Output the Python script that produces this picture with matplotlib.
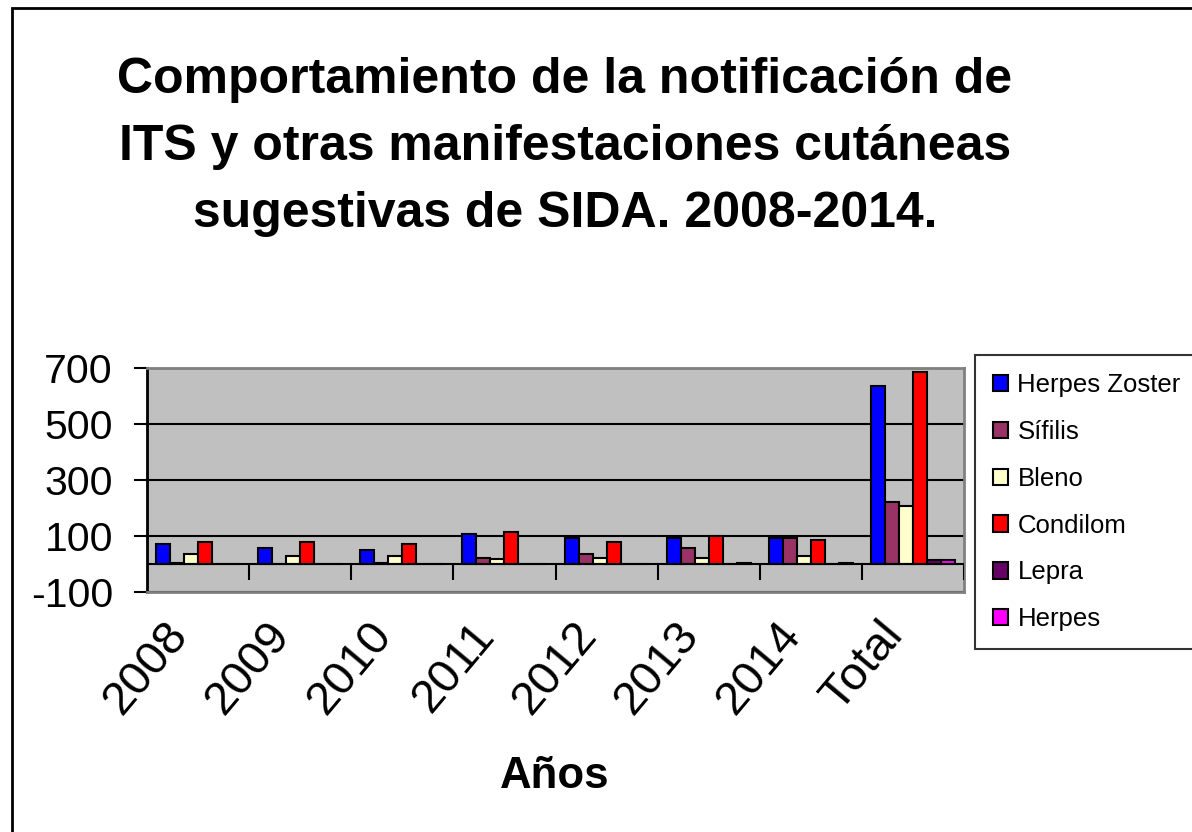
import matplotlib.pyplot as plt
import matplotlib.patches as mpatches
import matplotlib.transforms as mtransforms
import numpy as np

categorias = ["2008", "2009", "2010", "2011", "2012", "2013", "2014", "Total"]
herpes_zoster = [71, 57, 50, 107, 92, 92, 92, 636]
sifilis = [5, 0, 5, 20, 36, 57, 92, 220]
bleno = [36, 29, 29, 19, 20, 20, 29, 207]
condilom = [79, 79, 71, 113, 80, 100, 86, 684]
lepra = [0, 0, 0, 0, 0, 0, 0, 14]
herpes = [0, 0, 0, 0, 0, 5, 5, 14]

titulo = ["Comportamiento de la notificación de",
          "ITS y otras manifestaciones cutáneas",
          "sugestivas de SIDA. 2008-2014."]

series = [
    ("Herpes Zoster", herpes_zoster, "#0000FF"),
    ("Sífilis", sifilis, "#993366"),
    ("Bleno", bleno, "#FFFFCC"),
    ("Condilom", condilom, "#FF0000"),
    ("Lepra", lepra, "#660066"),
    ("Herpes", herpes, "#FF00FF"),
]

plt.rcParams["font.family"] = ["Liberation Sans", "DejaVu Sans"]
plt.rcParams["axes.unicode_minus"] = False

fig = plt.figure(figsize=(11.92, 8.32), dpi=100)
ax = fig.add_axes([147 / 1192, 1 - 592 / 832, 817 / 1192, 224 / 832])
ax.set_facecolor("#C0C0C0")

x = np.arange(len(categorias))
w = 0.137
for i, (nombre, vals, color) in enumerate(series):
    ax.bar(x + (i - 2.5) * w, vals, w, color=color, edgecolor="black",
           linewidth=1.5, label=nombre, zorder=3)

ax.set_xlim(-0.5, len(categorias) - 0.5)
ax.set_ylim(-100, 700)
ax.set_yticks([-100, 100, 300, 500, 700])
ax.yaxis.grid(True, color="black", linewidth=1.5, zorder=1)
ax.axhline(0, color="black", linewidth=1.5, zorder=4)
# marcas de categoria sobre el eje cero
ax.vlines(np.arange(1, len(categorias) + 1) - 0.5, -57, 0, color="black",
          linewidth=1.5, zorder=4)

ax.set_xticks(x)
ax.set_xticklabels(categorias, rotation=50, ha="right", va="center",
                   rotation_mode="anchor", fontsize=34)
ax.tick_params(axis="x", length=0, pad=26)
ax.tick_params(axis="y", length=9.5, width=1.5, direction="out", pad=15,
               labelsize=29.5)
desplaza = mtransforms.ScaledTranslation(-18 / 100, 0, fig.dpi_scale_trans)
for lbl in ax.get_xticklabels():
    lbl.set_transform(lbl.get_transform() + desplaza)

for s in ["top", "right", "bottom"]:
    ax.spines[s].set_color("#808080")
    ax.spines[s].set_linewidth(2)
ax.spines["left"].set_color("black")
ax.spines["left"].set_linewidth(2)

fig.text(555 / 1192, 1 - 788 / 832, "Años", ha="center", va="baseline",
         fontsize=31.5, fontweight="bold")

for linea, base in zip(titulo, [93, 160, 227]):
    fig.text(0.474, 1 - base / 832, linea, ha="center", va="baseline",
             fontsize=36, fontweight="bold")

leg = ax.legend(loc="upper left", bbox_to_anchor=(975 / 1192, 1 - 355 / 832),
                bbox_transform=fig.transFigure, borderaxespad=0, fontsize=18.5,
                frameon=True, fancybox=False, edgecolor="black",
                handlelength=0.6, handleheight=0.6, handletextpad=0.35,
                labelspacing=0.89, borderpad=0.7)
leg.get_frame().set_linewidth(1.5)

fig.patches.append(mpatches.Rectangle((12 / 1192, -0.05), 1.2, 1 - 8 / 832 + 0.05,
                                      transform=fig.transFigure, fill=False,
                                      edgecolor="black", linewidth=2))

fig.savefig("out.png", dpi=100)
